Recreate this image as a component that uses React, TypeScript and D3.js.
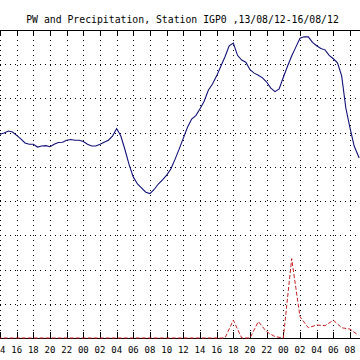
import React from "react";
import * as d3 from "d3";

const title = "PW and Precipitation, Station IGP0 ,13/08/12-16/08/12";

// hours since 13/08/12 00:00
const pwHours = [13, 14, 14.5, 15, 15.5, 16, 16.5, 17, 17.5, 18, 18.5, 19, 19.5, 20, 20.5, 21, 21.5, 22, 22.5, 23, 23.5, 24, 24.5, 25, 25.5, 26, 26.5, 27, 27.5, 28, 28.5, 29, 29.5, 30, 30.5, 31, 31.5, 32, 32.5, 33, 33.5, 34, 34.5, 35, 35.5, 36, 36.5, 37, 37.5, 38, 38.5, 39, 39.5, 40, 40.5, 41, 41.5, 42, 42.5, 43, 43.5, 44, 44.5, 45, 45.5, 46, 46.5, 47, 47.5, 48, 48.5, 49, 49.5, 50, 50.5, 51, 51.5, 52, 52.5, 53, 53.5, 54, 54.5, 55, 55.5, 56, 56.5, 57.1];
const pwValues = [29.8, 29.76, 29.95, 30.24, 30.1, 29.6, 29.1, 28.5, 28.3, 28.3,
  27.9, 28.05, 28.1, 27.95, 28.3, 28.56, 28.6, 28.9, 29.0, 28.9,
  28.9, 28.7, 28.3, 28.05, 28.05, 28.3, 28.6, 28.9, 29.5, 30.6,
  29.5, 27.5, 25.3, 23.5, 22.5, 21.9, 21.3, 21.1, 21.7, 22.5,
  23.1, 23.8, 24.7, 26.1, 27.6, 29.2, 30.8, 32.0, 32.5, 33.5,
  34.6, 36.2, 37.1, 38.3, 39.7, 41.1, 42.7, 43.1, 41.3, 40.6,
  40.3, 39.2, 38.7, 38.4, 38.0, 37.4, 36.5, 36.0, 36.4, 38.1,
  39.7, 41.2, 42.5, 43.8, 44.0, 44.0, 43.2, 42.7, 42.3, 42.1,
  41.3, 40.8, 40.2, 38.3, 33.6, 30.7, 28.05, 26.3];

const precipHours = [13, 20, 30, 41, 42, 43, 44, 45, 46, 47, 48, 49, 50, 51, 52, 53, 54, 55, 56, 57];
const precipValues = [0, 0, 0, 0, 0.26, 0, 0, 0.24, 0.09, 0.02, 0, 1.16, 0.31, 0.15, 0.19, 0.18, 0.26, 0.15, 0.13, 0.04];

const tickHours = [14, 16, 18, 20, 22, 24, 26, 28, 30, 32, 34, 36, 38, 40, 42, 44, 46, 48, 50, 52, 54, 56];
const pwGrid = [5, 10, 15, 20, 25, 30, 35, 40];

const W = 360, H = 360;
const TOP = 30, BOTTOM = 338;

export default function App() {
  const x = d3.scaleLinear().domain([14, 56]).range([0, 350]);
  const y = d3.scaleLinear().domain([0, 45]).range([BOTTOM, TOP]);
  const yP = d3.scaleLinear().domain([0, 4.5]).range([BOTTOM, TOP]);

  const pwLine = d3.line<number>()
    .x((_, i) => x(pwHours[i]))
    .y((v) => y(v))(pwValues) || "";
  const prLine = d3.line<number>()
    .x((_, i) => x(precipHours[i]))
    .y((v) => yP(v))(precipValues) || "";

  const font = "'DejaVu Sans Mono', monospace";
  const fmt = (h: number) => String(h % 24).padStart(2, "0");

  return (
    <svg width={W} height={H} style={{ position: "absolute", left: 0, top: 0, background: "#fff" }}>
      <rect x={0} y={0} width={W} height={H} fill="#fff" />
      <text x={182.5} y={23} textAnchor="middle" fontFamily={font} fontSize={9.8} fill="#000">{title}</text>
      {pwGrid.map((g) => (
        <line key={"h" + g} x1={0} x2={W} y1={Math.round(y(g)) + 0.5} y2={Math.round(y(g)) + 0.5}
          stroke="#000" strokeWidth={1} strokeDasharray="1,4" />
      ))}
      {tickHours.map((h) => {
        const px = Math.round(x(h)) + 0.5;
        return (
          <g key={"t" + h}>
            <line x1={px} x2={px} y1={TOP} y2={BOTTOM} stroke="#000" strokeWidth={1} strokeDasharray="1,4" />
            <line x1={px} x2={px} y1={TOP} y2={TOP + 5} stroke="#000" strokeWidth={1} />
            <line x1={px} x2={px} y1={BOTTOM - 6} y2={BOTTOM} stroke="#000" strokeWidth={1} />
            <text x={x(h)} y={352.5} textAnchor="middle" fontFamily={font} fontSize={9} fill="#000">{fmt(h)}</text>
          </g>
        );
      })}
      <line x1={0} x2={W} y1={TOP + 0.5} y2={TOP + 0.5} stroke="#000" strokeWidth={1} />
      <line x1={0} x2={W} y1={BOTTOM + 0.5} y2={BOTTOM + 0.5} stroke="#000" strokeWidth={1} />
      <path d={prLine} fill="none" stroke="#c81e1e" strokeWidth={1} strokeDasharray="4,2" />
      <path d={pwLine} fill="none" stroke="#10107a" strokeWidth={1.1} />
    </svg>
  );
}
